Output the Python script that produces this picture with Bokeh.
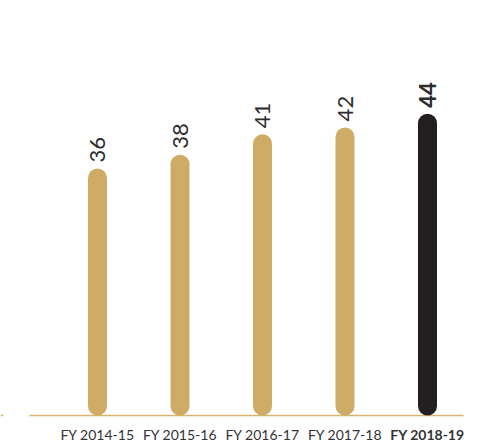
import numpy as np
from bokeh.plotting import figure
from bokeh.models import ColumnDataSource, Range1d
from bokeh.core.properties import value
from bokeh.embed import file_html
from bokeh.resources import INLINE

categories = ["FY 2014-15", "FY 2015-16", "FY 2016-17", "FY 2017-18", "FY 2018-19"]
values = [36, 38, 41, 42, 44]
bar_colors = ["#CFAC65", "#CFAC65", "#CFAC65", "#CFAC65", "#231F20"]
label_styles = ["normal", "normal", "normal", "normal", "bold"]

W, H = 490, 444
px_x = 82.5          # pixels per category step
px_y = 6.86          # pixels per unit
left_px = 97         # centre of first bar
base_px = 29         # baseline from the bottom
bar_w = 19
cap = (bar_w / 2) / px_y

idx = np.arange(len(categories))
src = ColumnDataSource(dict(
    x=idx, v=values, y0=[cap] * len(values), y1=[v - cap for v in values],
    color=bar_colors, style=label_styles, cat=categories,
    vlabel=[str(v) for v in values], zero=[0] * len(values),
))

p = figure(width=W, height=H, output_backend="svg", toolbar_location=None,
           min_border=0, outline_line_color=None,
           x_range=Range1d(-left_px / px_x, (W - left_px) / px_x),
           y_range=Range1d(-base_px / px_y, (H - base_px) / px_y))
p.axis.visible = False
p.grid.visible = False
p.background_fill_color = "white"

# baseline
x_start = -(left_px - 29) / px_x
x_end = len(categories) - 1 + (463 - 427) / px_x
p.segment(x0=[x_start], y0=[0], x1=[x_end], y1=[0], line_color="#D6B56E", line_width=1.5)
p.segment(x0=[-left_px / px_x], y0=[0], x1=[-left_px / px_x + 3 / px_x], y1=[0],
          line_color="#D6B56E", line_width=1.5)

# bars as rounded segments
p.segment(x0="x", y0="y0", x1="x", y1="y1", source=src, line_color="color",
          line_width=bar_w, line_cap="round")

# value labels
p.text(x="x", y="v", text="vlabel", source=src, angle=np.pi / 2,
       text_align="left", text_baseline="middle", x_offset=0, y_offset=-6,
       text_font=value("Lato"), text_font_size="22px", text_font_style="style",
       text_color="#2b2b2b")

# category labels
p.text(x="x", y="zero", text="cat", source=src, text_align="center",
       text_baseline="middle", y_offset=19, text_font=value("Lato"),
       text_font_size="14px", text_font_style="style", text_color="#333333")

open("out.html", "w").write(file_html(p, INLINE))
